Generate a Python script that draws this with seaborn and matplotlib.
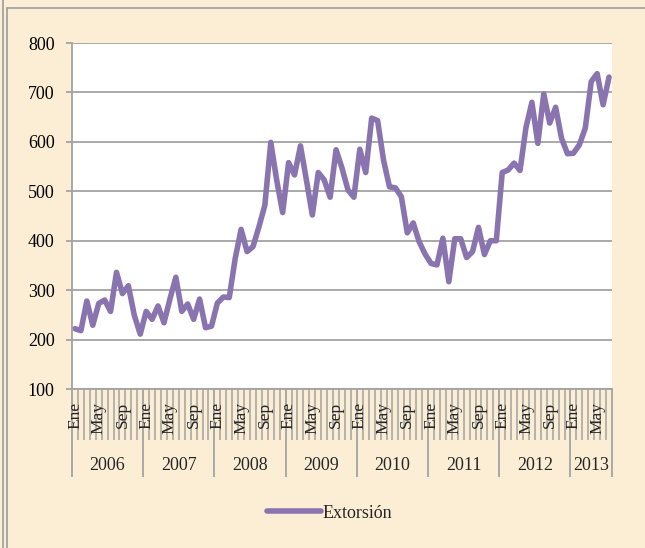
import numpy as np
import pandas as pd
import matplotlib.pyplot as plt
from matplotlib.lines import Line2D
import seaborn as sns


# monthly values, Ene 2006 .. Jul 2013
years = [2006, 2007, 2008, 2009, 2010, 2011, 2012, 2013]
months = ['Ene', 'Feb', 'Mar', 'Abr', 'May', 'Jun', 'Jul', 'Ago', 'Sep', 'Oct', 'Nov', 'Dic']
shown_months = ['Ene', 'May', 'Sep']
months_2013 = 7
extorsion = [222, 218, 278, 229, 273, 280, 257, 336, 293, 309, 249, 211,
             257, 241, 268, 234, 282, 326, 257, 272, 241, 282, 224, 227,
             274, 286, 285, 364, 423, 378, 388, 428, 472, 599, 522, 457,
             558, 533, 592, 523, 452, 538, 523, 488, 584, 547, 503, 488,
             585, 538, 648, 643, 563, 509, 507, 489, 416, 436, 398, 373,
             354, 351, 405, 317, 404, 404, 366, 378, 427, 372, 400, 400,
             538, 543, 557, 542, 629, 680, 597, 697, 638, 670, 607, 576,
             577, 594, 628, 722, 738, 675, 731]

n_years = len(years)
rows = []
for k, y in enumerate(years):
    nm = 12 if k < n_years - 1 else months_2013
    for m in range(nm):
        rows.append((y, months[m]))
df = pd.DataFrame(rows, columns=['year', 'mes'])
df['idx'] = np.arange(len(df))
df['Extorsión'] = extorsion

bg = '#fbeed5'
grey = '#a3a3a3'
purple = '#8a74b0'

sns.set_style('white')
plt.rcParams['font.family'] = ['Liberation Serif', 'DejaVu Serif']

fig = plt.figure(figsize=(6.45, 5.48), dpi=100, facecolor=bg)
ax = fig.add_axes([72/645, 1 - 389/548, 540/645, 346/548])
ax.set_facecolor('white')

sns.lineplot(data=df, x='idx', y='Extorsión', color=purple, linewidth=4.0,
             ax=ax, legend=False, solid_joinstyle='round', solid_capstyle='round')

ax.set_xlim(-0.5, len(df) - 0.5)
ax.set_ylim(100, 800)
ax.set_yticks(range(100, 801, 100))
ax.yaxis.grid(True, color=grey, linewidth=1.3)
ax.xaxis.grid(False)
ax.set_axisbelow(True)
for s in ['top', 'right']:
    ax.spines[s].set_visible(False)
for s in ['left', 'bottom']:
    ax.spines[s].set_color(grey)
    ax.spines[s].set_linewidth(1.3)

ax.tick_params(axis='y', which='major', left=True, length=4.5, width=1.3,
               color=grey, pad=8, labelsize=13, labelcolor='black')

# year separators (major) and month ticks (minor)
year_edges = [-0.5 + 12 * k for k in range(n_years)] + [len(df) - 0.5]
ax.set_xticks(year_edges)
ax.set_xticks(np.arange(len(df) + 1) - 0.5, minor=True)
ax.tick_params(axis='x', which='major', bottom=True, length=63, width=1.3,
               color=grey, labelbottom=False)
ax.tick_params(axis='x', which='minor', bottom=True, length=37, width=1.1,
               color=grey, labelbottom=False)
ax.set_xlabel('')
ax.set_ylabel('')

trans = ax.get_xaxis_transform()
for _, r in df[df['mes'].isin(shown_months)].iterrows():
    ax.text(r['idx'], -0.037, r['mes'], rotation=90, ha='center', va='top',
            fontsize=12.5, transform=trans)
for y in years:
    sub = df[df['year'] == y]['idx']
    ax.text((sub.min() + sub.max()) / 2, -0.22, str(y), ha='center', va='center',
            fontsize=13, transform=trans)

handle = Line2D([], [], color=purple, linewidth=4.0, solid_capstyle='round')
fig.legend([handle], ['Extorsión'], loc='center', bbox_to_anchor=(0.511, 1 - 513/548),
           frameon=False, fontsize=13, handlelength=3.0, handletextpad=0.1)

# chart frame lines
fig.add_artist(Line2D([3/645, 3/645], [0, 1], color=grey, linewidth=1.3))
fig.add_artist(Line2D([7/645, 7/645], [0, 1 - 8/548], color=grey, linewidth=1.3))
fig.add_artist(Line2D([7/645, 1], [1 - 8/548, 1 - 8/548], color=grey, linewidth=1.3))

fig.savefig('out.png', dpi=100, facecolor=bg)
